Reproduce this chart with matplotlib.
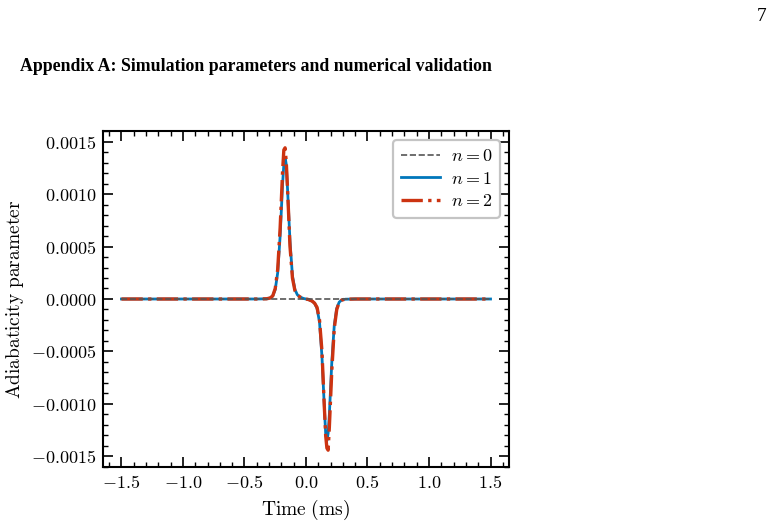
import matplotlib
matplotlib.use("Agg")
import matplotlib.pyplot as plt
from matplotlib.ticker import MultipleLocator, FuncFormatter

# values (adiabaticity in units of 1e-4)
time_ms = [-1.5, -0.6, -0.4, -0.32, -0.29, -0.27, -0.25, -0.23, -0.21, -0.19, -0.18,
           -0.17, -0.16, -0.15, -0.13, -0.11, -0.09, -0.07, -0.05, -0.02, 0.0,
           0.02, 0.05, 0.07, 0.09, 0.11, 0.13, 0.15, 0.16, 0.17, 0.18, 0.19,
           0.21, 0.23, 0.25, 0.27, 0.29, 0.32, 0.4, 0.6, 1.5]
n0_vals = [0.0] * 41
n1_vals = [0.0, 0.0, 0.0, 0.02, 0.1, 0.3, 0.9, 2.5, 6.0, 11.0, 12.8,
           13.5, 12.8, 10.5, 5.5, 2.2, 0.9, 0.4, 0.2, 0.05, 0.0,
           -0.05, -0.2, -0.4, -0.9, -2.2, -5.5, -10.5, -12.8, -13.5, -12.8, -11.0,
           -6.0, -2.5, -0.9, -0.3, -0.1, -0.02, 0.0, 0.0, 0.0]
n2_vals = [0.0, 0.0, 0.0, 0.02, 0.1, 0.3, 1.0, 2.8, 6.8, 12.2, 14.2,
           14.4, 13.0, 10.5, 5.0, 2.0, 0.8, 0.4, 0.2, 0.05, 0.0,
           -0.05, -0.2, -0.4, -0.8, -2.0, -5.0, -10.5, -13.0, -14.2, -14.4, -12.2,
           -6.8, -2.8, -1.0, -0.3, -0.1, -0.02, 0.0, 0.0, 0.0]
labels = [r"$n=0$", r"$n=1$", r"$n=2$"]

plt.rcParams['mathtext.fontset'] = 'cm'
plt.rcParams['font.size'] = 11

fig = plt.figure(figsize=(7.72, 5.23), dpi=100)
fig.text(0.993, 0.985, "7", family="Liberation Serif", fontsize=14, ha="right", va="top")
fig.text(0.026, 0.872, "Appendix A: Simulation parameters and numerical validation",
         family="Liberation Serif", fontsize=12.8, weight="bold", ha="left", va="center")

ax = fig.add_axes([0.1334, 0.1071, 0.5259, 0.6424])
scale = 1e-4
ax.plot(time_ms, [v * scale for v in n0_vals], color="#555555", ls="--", lw=1.2, label=labels[0], zorder=3)
ax.plot(time_ms, [v * scale for v in n1_vals], color="#0077BB", ls="-", lw=2.0, label=labels[1])
ax.plot(time_ms, [v * scale for v in n2_vals], color="#CC3311", ls="-.", lw=2.4, label=labels[2])

ax.set_xlim(-1.65, 1.65)
ax.set_ylim(-0.0016, 0.0016)
ax.xaxis.set_major_locator(MultipleLocator(0.5))
ax.xaxis.set_minor_locator(MultipleLocator(0.1))
ax.yaxis.set_major_locator(MultipleLocator(0.0005))
ax.yaxis.set_minor_locator(MultipleLocator(0.0001))
ax.xaxis.set_major_formatter(FuncFormatter(lambda v, p: r"$%.1f$" % v))
ax.yaxis.set_major_formatter(FuncFormatter(lambda v, p: r"$%.4f$" % v))
ax.tick_params(which="both", direction="in", top=True, right=True, labelsize=13)
ax.tick_params(which="major", length=7, width=1.2, pad=5)
ax.tick_params(which="minor", length=3.5, width=1.0)
for s in ax.spines.values():
    s.set_linewidth(1.5)

ax.set_xlabel(r"$\mathrm{Time\ (ms)}$", fontsize=14)
ax.set_ylabel(r"$\mathrm{Adiabaticity\ parameter}$", fontsize=14, labelpad=3)

leg = ax.legend(loc="upper right", fontsize=13, handlelength=2.2, handletextpad=0.6,
                labelspacing=0.25, frameon=True, fancybox=True, edgecolor="#c4c4c4",
                framealpha=1.0, borderaxespad=0.5)
leg.get_frame().set_linewidth(1.6)

fig.savefig("out.png", dpi=100)
